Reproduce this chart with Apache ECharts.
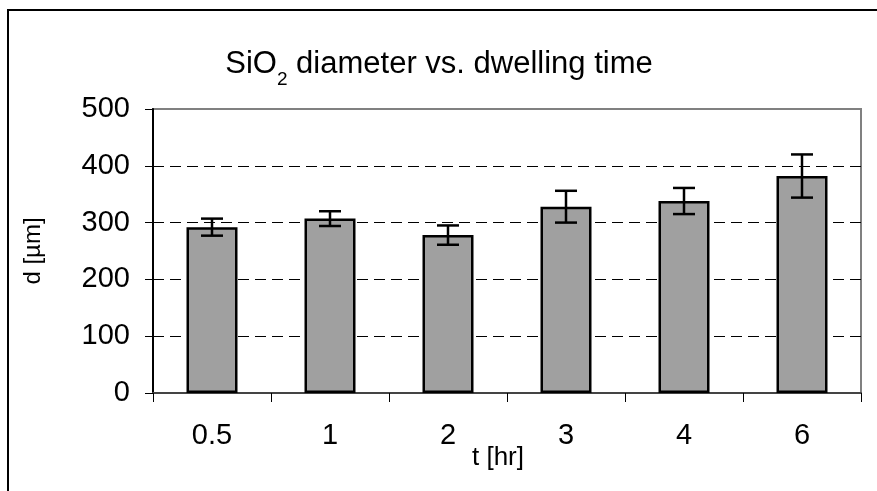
<!DOCTYPE html>
<html>
<head>
<meta charset="utf-8">
<script src="https://cdn.jsdelivr.net/npm/echarts@6/dist/echarts.min.js"></script>
<style>
  html, body { margin: 0; padding: 0; background: #fff; }
  #chart { width: 877px; height: 491px; }
</style>
</head>
<body>
<div id="chart"></div>
<script>
// Dwelling times (hours) and mean SiO2 particle diameter with its spread
const categories = ['0.5', '1', '2', '3', '4', '6'];
const diameters = [292, 307, 278, 328, 338, 382];
const errors = [15, 13, 17, 28, 23, 38];
const yTicks = { min: 0, max: 500, interval: 100 };

const FONT_FAMILY = '"Liberation Sans", Arial, sans-serif';
const TITLE_SIZE = 31;
const SUB_SIZE = 19;

const errorData = diameters.map((d, i) => [i, d - errors[i], d + errors[i]]);

// Title pieces: chemical formula with a subscript, then the rest of the caption
const titleParts = [
  { text: 'SiO', size: TITLE_SIZE, sub: false },
  { text: '2', size: SUB_SIZE, sub: true },
  { text: ' diameter vs. dwelling time', size: TITLE_SIZE, sub: false }
];

function measure(text, size) {
  const ctx = document.createElement('canvas').getContext('2d');
  ctx.font = size + 'px ' + FONT_FAMILY;
  return ctx.measureText(text).width;
}

function buildTitle(centerX, baselineY, subDrop) {
  const widths = titleParts.map(p => measure(p.text, p.size));
  const total = widths.reduce((a, b) => a + b, 0);
  let x = centerX - total / 2;
  return titleParts.map((p, i) => {
    const el = {
      type: 'text',
      x: x,
      y: baselineY + (p.sub ? subDrop : 0) - 0.35 * p.size,
      silent: true,
      style: {
        text: p.text,
        font: p.size + 'px ' + FONT_FAMILY,
        fill: '#000',
        textAlign: 'left',
        textVerticalAlign: 'middle'
      }
    };
    x += widths[i];
    return el;
  });
}

const chart = echarts.init(document.getElementById('chart'), null, { renderer: 'canvas' });

chart.setOption({
  animation: false,
  backgroundColor: '#ffffff',
  graphic: [
    {
      type: 'rect',
      shape: { x: 8, y: 10, width: 1000, height: 600 },
      style: { fill: 'none', stroke: '#000', lineWidth: 2 },
      silent: true,
      z: -1
    }
  ].concat(buildTitle(439, 75, 11.5)),
  grid: {
    left: 153,
    right: 16,
    top: 109,
    bottom: 98,
    show: true,
    borderColor: '#808080',
    borderWidth: 2,
    backgroundColor: 'transparent'
  },
  xAxis: {
    type: 'category',
    data: categories,
    name: 't [hr]',
    nameLocation: 'middle',
    nameGap: 52,
    nameMoveOverlap: false,
    nameTextStyle: { fontFamily: FONT_FAMILY, fontSize: 26, color: '#000', padding: [0, 18, 0, 0] },
    axisLine: { lineStyle: { color: '#444', width: 2 } },
    axisTick: { show: true, length: 9, lineStyle: { color: '#000', width: 1 } },
    axisLabel: { fontFamily: FONT_FAMILY, fontSize: 29, color: '#000', margin: 28 },
    splitLine: { show: false }
  },
  yAxis: {
    type: 'value',
    min: yTicks.min,
    max: yTicks.max,
    interval: yTicks.interval,
    name: 'd [µm]',
    nameLocation: 'middle',
    nameGap: 108,
    nameMoveOverlap: false,
    nameTextStyle: { fontFamily: FONT_FAMILY, fontSize: 24, color: '#000' },
    axisLine: { show: true, lineStyle: { color: '#000', width: 2 } },
    axisTick: { show: true, length: 8, lineStyle: { color: '#000', width: 1 } },
    axisLabel: { fontFamily: FONT_FAMILY, fontSize: 29, color: '#000', margin: 23 },
    splitLine: {
      show: true,
      showMinLine: false,
      showMaxLine: false,
      lineStyle: { color: '#000', width: 1, type: [11, 6] }
    }
  },
  series: [
    {
      type: 'bar',
      data: diameters,
      barWidth: 51,
      itemStyle: { color: '#a0a0a0', borderColor: '#000', borderWidth: 2.5 },
      z: 2
    },
    {
      type: 'custom',
      data: errorData,
      z: 3,
      renderItem: function (params, api) {
        const x = api.value(0);
        const lo = api.coord([x, api.value(1)]);
        const hi = api.coord([x, api.value(2)]);
        const half = 11;
        const style = { stroke: '#000', lineWidth: 2.5 };
        return {
          type: 'group',
          children: [
            { type: 'line', shape: { x1: hi[0], y1: hi[1], x2: lo[0], y2: lo[1] }, style: style },
            { type: 'line', shape: { x1: hi[0] - half, y1: hi[1], x2: hi[0] + half, y2: hi[1] }, style: style },
            { type: 'line', shape: { x1: lo[0] - half, y1: lo[1], x2: lo[0] + half, y2: lo[1] }, style: style }
          ]
        };
      }
    }
  ]
});
</script>
</body>
</html>
